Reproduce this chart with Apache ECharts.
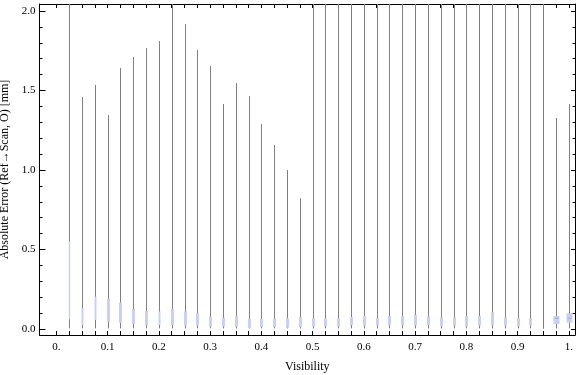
<!DOCTYPE html>
<html><head><meta charset="utf-8">
<script src="https://cdn.jsdelivr.net/npm/echarts@6/dist/echarts.min.js"></script>
<style>html,body{margin:0;padding:0;background:#fff}#c{width:576px;height:375px}</style>
</head><body><div id="c"></div>
<script>
// ---- data ----
const visibility = [0.025,0.05,0.075,0.1,0.125,0.15,0.175,0.2,0.225,0.25,
  0.275,0.3,0.325,0.35,0.375,0.4,0.425,0.45,0.475,0.5,
  0.525,0.55,0.575,0.6,0.625,0.65,0.675,0.7,0.725,0.75,
  0.775,0.8,0.825,0.85,0.875,0.9,0.925,0.95,0.975,1.0];
const whiskerMax = [2.6,1.46,1.535,1.346,1.642,1.711,1.767,1.811,2.6,1.918,
  1.755,1.654,1.415,1.547,1.465,1.289,1.157,1.0,0.822,2.6,
  2.6,2.6,2.6,2.6,2.6,2.6,2.6,2.6,2.6,2.6,
  2.6,2.6,2.6,2.6,2.6,2.6,2.6,2.6,1.327,1.415];
const whiskerMin = [0.003,0.003,0.003,0.003,0.003,0.003,0.003,0.003,0.003,0.003,
  0.003,0.004,0.003,0.003,0.003,0.003,0.003,0.003,0.003,0.003,
  0.003,0.003,0.003,0.003,0.003,0.003,0.003,0.003,0.003,0.003,
  0.003,0.003,0.003,0.003,0.003,0.003,0.003,0.001,0.003,0.004];
const lowerQuartile = [0.06,0.025,0.057,0.044,0.038,0.031,0.025,0.025,0.025,0.02,
  0.021,0.015,0.015,0.015,0.008,0.013,0.013,0.008,0.013,0.017,
  0.017,0.015,0.025,0.02,0.023,0.023,0.023,0.023,0.025,0.019,
  0.021,0.015,0.021,0.021,0.021,0.019,0.021,null,0.031,0.04];
const medianValue = [0.41,0.07,0.12,0.11,0.1,0.07,0.06,0.06,0.07,0.06,
  0.05,0.045,0.04,0.045,0.035,0.035,0.04,0.04,0.04,0.04,
  0.04,0.04,0.05,0.05,0.045,0.05,0.05,0.05,0.05,0.045,
  0.045,0.05,0.05,0.06,0.045,0.045,0.045,null,0.067,0.067];
const upperQuartile = [0.55,0.13,0.203,0.189,0.165,0.126,0.113,0.11,0.126,0.11,
  0.099,0.077,0.071,0.08,0.065,0.063,0.065,0.067,0.075,0.067,
  0.067,0.067,0.075,0.082,0.067,0.082,0.082,0.088,0.078,0.074,
  0.074,0.082,0.082,0.105,0.074,0.069,0.067,null,0.082,0.099];
const xTickLabels = [0,0.1,0.2,0.3,0.4,0.5,0.6,0.7,0.8,0.9,1.0];
const xTicks = [0,0.025,0.05,0.075,0.1,0.125,0.15,0.175,0.2,0.225,0.25,0.275,0.3,0.325,0.35,0.375,0.4,0.425,0.45,0.475,0.5,
  0.525,0.55,0.575,0.6,0.625,0.65,0.675,0.7,0.725,0.75,0.775,0.8,0.825,0.85,0.875,0.9,0.925,0.95,0.975,1.0];
const yTickLabels = [0,0.5,1.0,1.5,2.0];
const yMinorTicks = [0,0.1,0.2,0.3,0.4,0.5,0.6,0.7,0.8,0.9,1.0,1.1,1.2,1.3,1.4,1.5,1.6,1.7,1.8,1.9,2.0];

// ---- styles ----
const FONT = 'Liberation Serif';
const WHISKER = '#808080';
const BOX = '#c9d0f3';
const boxWidthPx = {0: 1.5, 1: 2, 2: 2, 7: 2, 38: 6, 39: 6};

const seriesData = visibility.map((v, i) => [v, whiskerMin[i], lowerQuartile[i] == null ? '-' : lowerQuartile[i],
  medianValue[i] == null ? '-' : medianValue[i], upperQuartile[i] == null ? '-' : upperQuartile[i], whiskerMax[i]]);

const X_MIN = -0.033, X_MAX = 1.012, Y_MIN = -0.038, Y_MAX = 2.044;
const fmtX = v => v === 0 ? '0.' : (v === 1 ? '1.' : v.toFixed(1));

function baseX(pos, show) {
  return {
    type: 'value', position: pos, min: X_MIN, max: X_MAX,
    axisLine: { show: true, onZero: false, lineStyle: { color: '#000', width: 1 } },
    axisTick: { show: true, inside: true, length: 4, customValues: xTicks, lineStyle: { color: '#000' } },
    axisLabel: { show: show, customValues: xTickLabels, formatter: fmtX, fontFamily: FONT, fontSize: 11, color: '#000', margin: 7 },
    splitLine: { show: false }
  };
}
function baseY(pos, ticks, len, line, label) {
  return {
    type: 'value', position: pos, min: Y_MIN, max: Y_MAX,
    axisLine: { show: line, onZero: false, lineStyle: { color: '#000', width: 1 } },
    axisTick: { show: true, inside: true, length: len, customValues: ticks, lineStyle: { color: '#000' } },
    axisLabel: { show: label, customValues: yTickLabels, formatter: v => v.toFixed(1), fontFamily: FONT, fontSize: 11, color: '#000', margin: 4 },
    splitLine: { show: false }
  };
}

const xMain = baseX('bottom', true);
xMain.name = 'Visibility';
xMain.nameLocation = 'middle';
xMain.nameGap = 26;
xMain.nameTextStyle = { fontFamily: FONT, fontSize: 12, color: '#000' };

const yMain = baseY('left', yTickLabels, 6, true, true);
yMain.name = 'Absolute Error (Ref\u2192Scan, O) [mm]';
yMain.nameLocation = 'middle';
yMain.nameGap = 24;
yMain.nameRotate = 90;
yMain.nameTextStyle = { fontFamily: FONT, fontSize: 12, color: '#000' };

const chart = echarts.init(document.getElementById('c'), null, { renderer: 'canvas' });
chart.setOption({
  animation: false,
  backgroundColor: '#fff',
  grid: { left: 39.5, right: 1, top: 4, bottom: 40, containLabel: false, outerBoundsMode: 'none' },
  xAxis: [xMain, baseX('top', false)],
  yAxis: [
    yMain,
    baseY('left', yMinorTicks, 3, false, false),
    baseY('right', yTickLabels, 4, true, false),
    baseY('right', yMinorTicks, 2.5, false, false)
  ],
  series: [{
    type: 'custom',
    xAxisIndex: 0, yAxisIndex: 0,
    data: seriesData,
    renderItem: function (params, api) {
      const i = params.dataIndex;
      const cs = params.coordSys;
      const clampY = y => Math.max(cs.y, Math.min(cs.y + cs.height, y));
      const x = api.value(0);
      const pLo = api.coord([x, api.value(1)]);
      const pHi = api.coord([x, api.value(5)]);
      const px = Math.round(pLo[0]) + 0.5;
      const children = [{
        type: 'line',
        shape: { x1: px, y1: clampY(pLo[1]), x2: px, y2: clampY(pHi[1]) },
        style: { stroke: WHISKER, lineWidth: 1 }
      }];
      const q1 = api.value(2), q3 = api.value(4), md = api.value(3);
      if (!isNaN(q1) && !isNaN(q3)) {
        const w = boxWidthPx[i] || 3;
        const y1 = api.coord([x, q1])[1], y3 = api.coord([x, q3])[1];
        children.push({
          type: 'rect',
          shape: { x: px - w / 2, y: y3, width: w, height: y1 - y3 },
          style: { fill: BOX }
        });
        if (!isNaN(md) && w > 4) {
          const ym = api.coord([x, md])[1];
          children.push({
            type: 'line',
            shape: { x1: px - w / 2 + 1, y1: ym, x2: px + w / 2 - 1, y2: ym },
            style: { stroke: '#a6acc8', lineWidth: 1 }
          });
        }
      }
      return { type: 'group', children: children };
    }
  }]
});
</script>
</body></html>
